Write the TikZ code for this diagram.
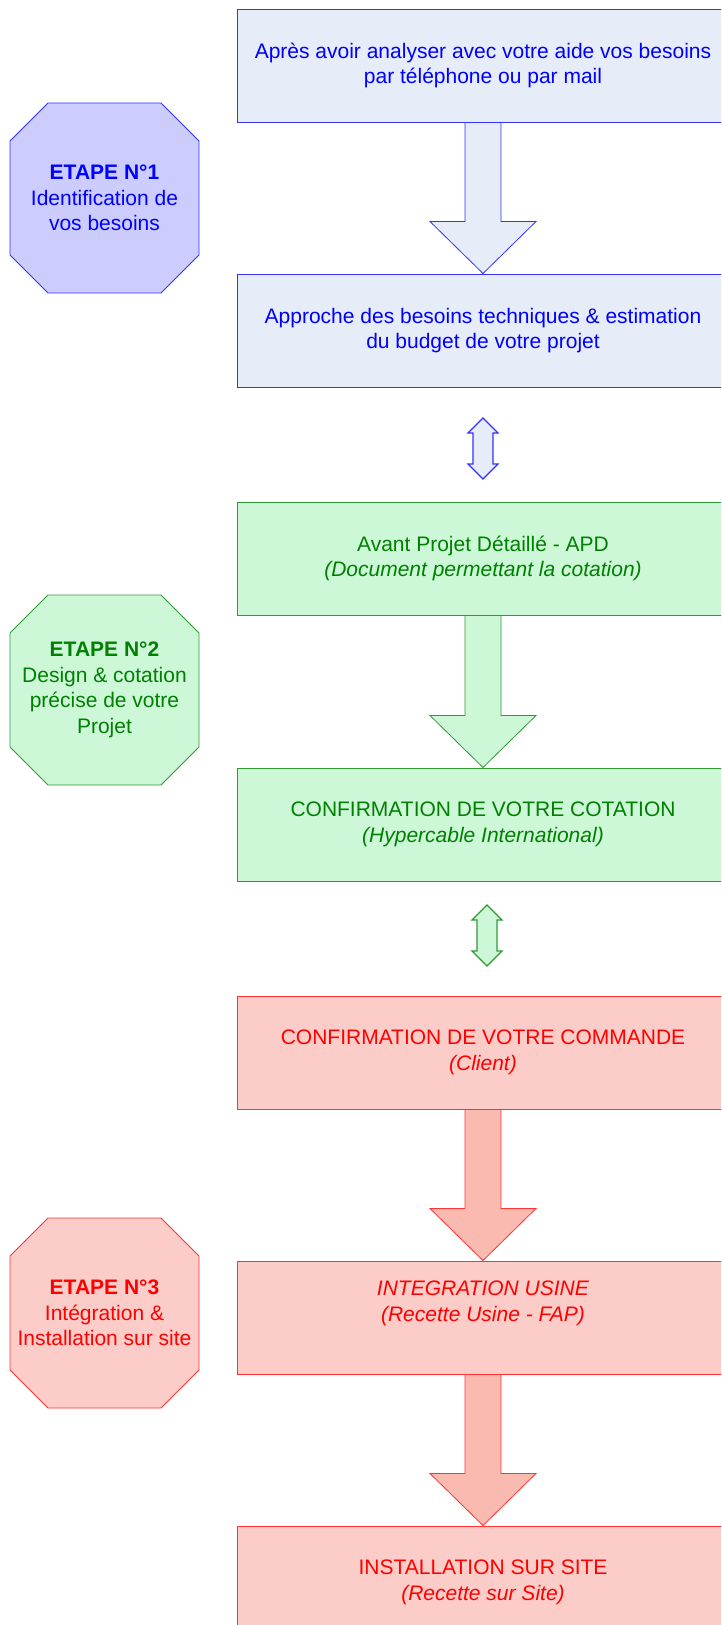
\documentclass[tikz,border=0pt]{standalone}
\usepackage{fontspec}
\setmainfont{Liberation Sans}
\usetikzlibrary{positioning,calc,backgrounds}

\definecolor{bluefill}{HTML}{E6ECF8}
\definecolor{blueline}{HTML}{3333FF}
\definecolor{bluetext}{HTML}{0000FF}
\definecolor{blueocto}{HTML}{CCCCFF}
\definecolor{greenfill}{HTML}{CCF8D8}
\definecolor{greenline}{HTML}{339933}
\definecolor{greentext}{HTML}{008000}
\definecolor{redfill}{HTML}{FCCCC8}
\definecolor{redarrowfill}{HTML}{FBBAB0}
\definecolor{redline}{HTML}{FF3333}
\definecolor{redtext}{HTML}{FF0000}

\tikzset{
  box/.style={rectangle, draw, line width=1pt, minimum width=492pt, minimum height=113pt,
    align=center, inner sep=0pt},
  bluebox/.style={box, draw=blueline, fill=bluefill, text=bluetext},
  greenbox/.style={box, draw=greenline, fill=greenfill, text=greentext},
  redbox/.style={box, draw=redline, fill=redfill, text=redtext},
  octo/.style={rectangle, minimum width=189pt, minimum height=190pt, align=center,
    inner sep=0pt, outer sep=0pt},
  blue arrow/.style={draw=blueline, fill=bluefill, line width=0.8pt},
  green arrow/.style={draw=greenline, fill=greenfill, line width=0.8pt},
  red arrow/.style={draw=redline, fill=redarrowfill, line width=0.8pt},
}

\begin{document}
\begin{tikzpicture}[x=1pt,y=-1pt,font=\fontsize{21}{25.5}\selectfont]
  \useasboundingbox (0,0) rectangle (721,1625);
  \clip (0,0) rectangle (721,1625);

  % etapes
  \node[octo, text=bluetext] (e1) at (104.5,198)
    {\textbf{ETAPE N°1}\\Identification de\\vos besoins};
  \node[octo, text=greentext] (e2) at (104.5,690)
    {\textbf{ETAPE N°2}\\Design \& cotation\\précise de votre\\Projet};
  \node[octo, text=redtext] (e3) at (104.5,1313)
    {\textbf{ETAPE N°3}\\Intégration \&\\Installation sur site};

  % boites
  \node[bluebox] (b1) at (483,65.5)
    {Après avoir analyser avec votre aide vos besoins\\par téléphone ou par mail};
  \node[bluebox, below=151pt of b1] (b2)
    {Approche des besoins techniques \& estimation\\du budget de votre projet};
  \node[greenbox, below=114pt of b2] (b3)
    {Avant Projet Détaillé - APD\\\textit{(Document permettant la cotation)}};
  \node[greenbox, below=152pt of b3] (b4)
    {CONFIRMATION DE VOTRE COTATION\\\textit{(Hypercable International)}};
  \node[redbox, below=114pt of b4] (b5)
    {CONFIRMATION DE VOTRE COMMANDE\\\textit{(Client)}};
  \node[redbox, below=151pt of b5] (b6)
    {\textit{INTEGRATION USINE}\\\textit{(Recette Usine - FAP)}\\\strut};
  \node[redbox, below=151pt of b6] (b7)
    {INSTALLATION SUR SITE\\\textit{(Recette sur Site)}};

  \coordinate (m1) at ($(b2.south)!0.5!(b3.north)+(0,4)$);
  \coordinate (m2) at ($(b4.south)!0.5!(b5.north)+(4,-3)$);

  \begin{scope}[on background layer]
    % octogones
    \foreach \e/\edge/\inside in {e1/blueline/blueocto, e2/greenline/greenfill, e3/redline/redfill}
      \draw[draw=\edge, fill=\inside, line width=0.8pt]
        ($(\e.north west)+(38,0)$) -- ($(\e.north east)+(-38,0)$)
        -- ($(\e.north east)+(0,38)$) -- ($(\e.south east)+(0,-38)$)
        -- ($(\e.south east)+(-38,0)$) -- ($(\e.south west)+(38,0)$)
        -- ($(\e.south west)+(0,-38)$) -- ($(\e.north west)+(0,38)$) -- cycle;
    % grosses fleches
    \foreach \from/\to/\kind in {b1/b2/blue, b3/b4/green, b5/b6/red, b6/b7/red}
      \draw[\kind\space arrow] ($(\from.south)+(-18,0)$) -- ($(\to.north)+(-18,-52)$)
        -- ($(\to.north)+(-53,-52)$) -- (\to.north) -- ($(\to.north)+(53,-52)$)
        -- ($(\to.north)+(18,-52)$) -- ($(\from.south)+(18,0)$);
  \end{scope}

  % doubles fleches
  \foreach \m/\kind in {m1/blue, m2/green}
    \draw[\kind\space arrow, line width=1.3pt] (\m) ++(0,-30.5) -- ++(15,15) -- ++(-5,0)
      -- ++(0,31) -- ++(5,0) -- ++(-15,15) -- ++(-15,-15) -- ++(5,0) -- ++(0,-31)
      -- ++(-5,0) -- cycle;
\end{tikzpicture}
\end{document}
